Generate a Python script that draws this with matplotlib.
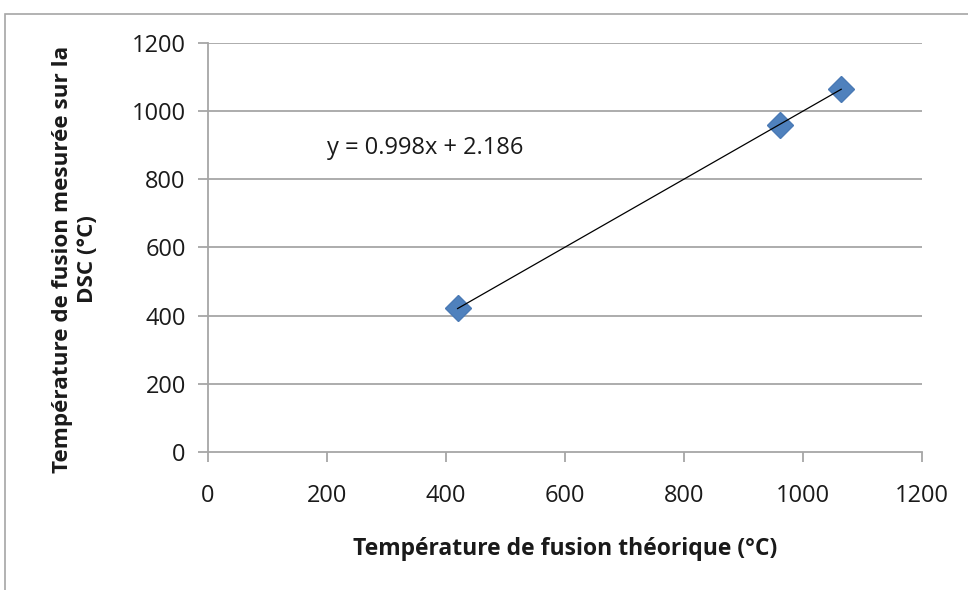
import matplotlib
matplotlib.use("Agg")
import matplotlib.pyplot as plt
import numpy as np
from matplotlib.patches import Rectangle

# Data
theoretical = [419.5, 961.8, 1064.2]
measured = [423.0, 958.0, 1064.0]
slope = 0.998
intercept = 2.186
equation_label = "y = 0.998x + 2.186"
x_ticks = [0, 200, 400, 600, 800, 1000, 1200]
y_ticks = [0, 200, 400, 600, 800, 1000, 1200]
x_label = "Température de fusion théorique (°C)"
y_label = "Température de fusion mesurée sur la\nDSC (°C)"

plt.rcParams['font.family'] = ['Open Sans', 'DejaVu Sans']

fig = plt.figure(figsize=(9.68, 5.9), dpi=100)
W, H = 968, 590
ax = fig.add_axes([208 / W, 1 - 452 / H, (922 - 208) / W, (452 - 43) / H])

# outer border
fig.patches.append(Rectangle((5 / W, -0.1), 1.2, (1 - 14 / H) + 0.1,
                             transform=fig.transFigure, fill=False,
                             edgecolor='#a6a6a6', linewidth=1.2))

ax.set_xlim(0, 1200)
ax.set_ylim(0, 1200)
ax.set_xticks(x_ticks)
ax.set_yticks(y_ticks)

for yt in y_ticks[1:]:
    ax.axhline(yt, color='#a6a6a6', linewidth=1.3, zorder=1)

xs = np.array([min(theoretical), max(theoretical)])
ax.plot(xs, slope * xs + intercept, color='black', linewidth=0.9, zorder=3)
ax.plot(theoretical, measured, linestyle='none', marker='D', markersize=13,
        color='#4f81bd', markeredgecolor='#4a7ab5', zorder=2)

for s in ['top', 'right']:
    ax.spines[s].set_visible(False)
for s in ['left', 'bottom']:
    ax.spines[s].set_color('#a6a6a6')
    ax.spines[s].set_linewidth(1.3)

ax.tick_params(axis='both', colors='#a6a6a6', length=7, width=1.3,
               labelcolor='#1a1a1a', labelsize=17)
ax.tick_params(axis='y', pad=9)
ax.tick_params(axis='x', pad=16)

ax.text(0.1667, 0.744, equation_label, fontsize=17, color='#1a1a1a',
        transform=ax.transAxes, ha='left', va='center')

ax.set_xlabel(x_label, fontsize=16.5, fontweight='bold', color='#1a1a1a')
ax.xaxis.set_label_coords(0.5, -(537 - 452) / 409)
ax.set_ylabel(y_label, fontsize=16.2, fontweight='bold', color='#1a1a1a',
              linespacing=1.25)
ax.yaxis.set_label_coords(-(208 - 98) / 714, (452 - 259) / 409)

fig.savefig("out.png", dpi=100)
